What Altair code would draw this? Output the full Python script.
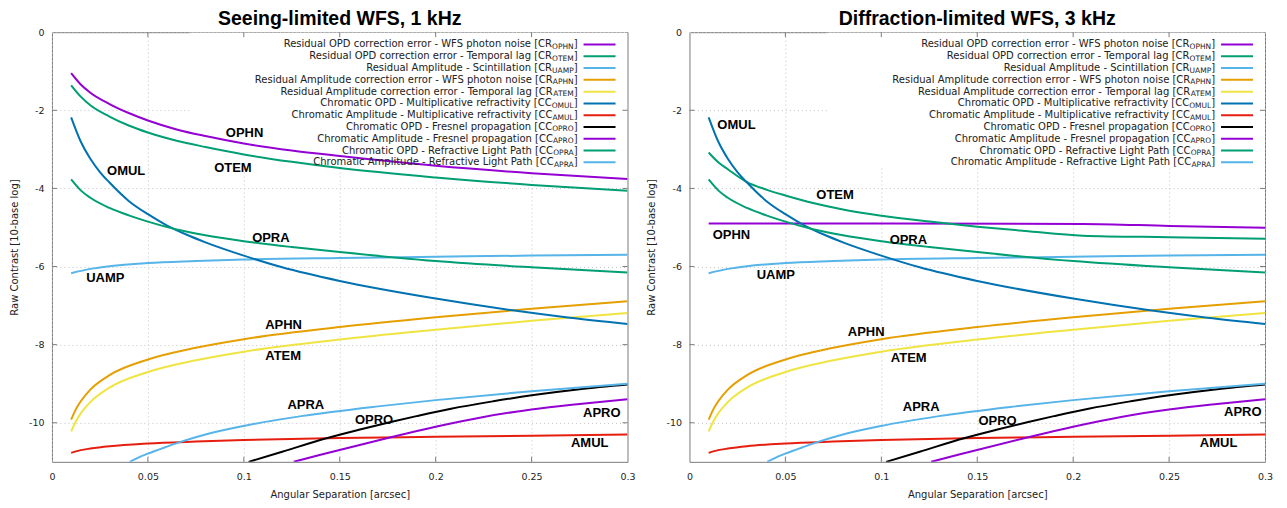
import altair as alt
import pandas as pd

# ---------------- data ----------------
SERIES = ["OPHN", "OTEM", "UAMP", "APHN", "ATEM", "OMUL", "AMUL", "OPRO", "APRO", "OPRA", "APRA"]
COLORS = ["#9400d3", "#009e73", "#56b4e9", "#e69f00", "#f0e442", "#0072b2",
          "#e51e10", "#000000", "#9400d3", "#009e73", "#56b4e9"]
PREFIX = ["CR", "CR", "CR", "CR", "CR", "CC", "CC", "CC", "CC", "CC", "CC"]
DESCRIPTIONS = [
    "Residual OPD correction error - WFS photon noise",
    "Residual OPD correction error - Temporal lag",
    "Residual Amplitude - Scintillation",
    "Residual Amplitude correction error - WFS photon noise",
    "Residual Amplitude correction error - Temporal lag",
    "Chromatic OPD - Multiplicative refractivity",
    "Chromatic Amplitude - Multiplicative refractivity",
    "Chromatic OPD - Fresnel propagation",
    "Chromatic Amplitude - Fresnel propagation",
    "Chromatic OPD - Refractive Light Path",
    "Chromatic Amplitude - Refractive Light Path",
]

TITLES = ["Seeing-limited WFS, 1 kHz", "Diffraction-limited WFS, 3 kHz"]
X_TICKS = [0, 0.05, 0.1, 0.15, 0.2, 0.25, 0.3]
Y_TICKS = [0, -2, -4, -6, -8, -10]

# panel-specific series
OPHN_SEEING_X = [0.01, 0.015, 0.02, 0.03, 0.04, 0.05, 0.065, 0.08, 0.1, 0.125, 0.15, 0.2, 0.25, 0.3]
OPHN_SEEING_Y = [-1.05, -1.34, -1.55, -1.84, -2.07, -2.26, -2.49, -2.66, -2.85, -3.03, -3.17, -3.42, -3.61, -3.76]
OTEM_SEEING_X = [0.01, 0.015, 0.02, 0.03, 0.04, 0.05, 0.065, 0.08, 0.1, 0.125, 0.15, 0.2, 0.25, 0.3]
OTEM_SEEING_Y = [-1.36, -1.65, -1.87, -2.16, -2.39, -2.57, -2.78, -2.94, -3.13, -3.32, -3.48, -3.72, -3.91, -4.06]

OPHN_DIFF_X = [0.01, 0.1, 0.205, 0.25, 0.3]
OPHN_DIFF_Y = [-4.90, -4.90, -4.91, -4.96, -5.01]
OTEM_DIFF_X = [0.01, 0.015, 0.02, 0.03, 0.04, 0.05, 0.065, 0.08, 0.1, 0.125, 0.15, 0.175, 0.205, 0.25, 0.3]
OTEM_DIFF_Y = [-3.08, -3.33, -3.51, -3.84, -4.03, -4.18, -4.38, -4.54, -4.70, -4.85, -4.98, -5.09, -5.21, -5.25, -5.29]

# series shared by both panels
UAMP_X = [0.01, 0.02, 0.03, 0.05, 0.075, 0.1, 0.15, 0.2, 0.25, 0.3]
UAMP_Y = [-6.17, -6.06, -5.99, -5.91, -5.86, -5.82, -5.78, -5.75, -5.72, -5.70]
APHN_X = [0.01, 0.0125, 0.015, 0.02, 0.03, 0.05, 0.075, 0.1, 0.15, 0.2, 0.25, 0.3]
APHN_Y = [-9.92, -9.65, -9.45, -9.15, -8.78, -8.38, -8.08, -7.86, -7.55, -7.30, -7.08, -6.89]
ATEM_X = [0.01, 0.0125, 0.015, 0.02, 0.03, 0.05, 0.075, 0.1, 0.15, 0.2, 0.25, 0.3]
ATEM_Y = [-10.22, -9.96, -9.76, -9.47, -9.10, -8.70, -8.40, -8.18, -7.87, -7.62, -7.39, -7.19]
OMUL_X = [0.01, 0.015, 0.02, 0.025, 0.03, 0.04, 0.05, 0.06, 0.07, 0.08, 0.1, 0.12, 0.15, 0.2, 0.24, 0.27, 0.3]
OMUL_Y = [-2.18, -2.80, -3.24, -3.58, -3.85, -4.32, -4.66, -4.95, -5.18, -5.38, -5.72, -6.02, -6.37, -6.82, -7.12, -7.31, -7.47]
AMUL_X = [0.01, 0.015, 0.02, 0.03, 0.05, 0.075, 0.1, 0.15, 0.2, 0.25, 0.3]
AMUL_Y = [-10.77, -10.70, -10.66, -10.60, -10.53, -10.48, -10.44, -10.39, -10.36, -10.33, -10.30]
OPRO_X = [0.1025, 0.12, 0.1436, 0.16, 0.1766, 0.19, 0.208, 0.23, 0.251, 0.275, 0.3]
OPRO_Y = [-11.0, -10.74, -10.39, -10.18, -9.98, -9.83, -9.64, -9.45, -9.29, -9.14, -9.02]
APRO_X = [0.126, 0.14, 0.1766, 0.2, 0.225, 0.25, 0.275, 0.3]
APRO_Y = [-11.0, -10.82, -10.37, -10.10, -9.85, -9.66, -9.52, -9.40]
OPRA_X = [0.01, 0.015, 0.02, 0.03, 0.04, 0.05, 0.065, 0.08, 0.1, 0.125, 0.15, 0.2, 0.25, 0.3]
OPRA_Y = [-3.77, -4.05, -4.24, -4.50, -4.69, -4.85, -5.05, -5.20, -5.35, -5.50, -5.63, -5.86, -6.02, -6.15]
APRA_X = [0.0405, 0.045, 0.05, 0.06, 0.067, 0.08, 0.1, 0.13, 0.17, 0.2, 0.25, 0.3]
APRA_Y = [-11.0, -10.89, -10.79, -10.61, -10.49, -10.30, -10.08, -9.83, -9.58, -9.42, -9.19, -9.0]

# curve annotations (label text, x, y) per panel
LABEL_NAMES = ["OPHN", "OTEM", "OMUL", "OPRA", "UAMP", "APHN", "ATEM", "APRA", "OPRO", "APRO", "AMUL"]
LABEL_SEEING_X = [0.1004, 0.0943, 0.0387, 0.1141, 0.0278, 0.1207, 0.1205, 0.1323, 0.1679, 0.2866, 0.2803]
LABEL_SEEING_Y = [-2.57, -3.48, -3.56, -5.27, -6.29, -7.49, -8.30, -9.54, -9.93, -9.74, -10.51]
LABEL_DIFF_X = [0.0219, 0.0759, 0.0245, 0.1141, 0.0450, 0.0921, 0.1143, 0.1208, 0.1606, 0.2884, 0.2758]
LABEL_DIFF_Y = [-5.18, -4.17, -2.37, -5.31, -6.21, -7.67, -8.34, -9.60, -9.96, -9.73, -10.53]

# ---------------- layout / style ----------------
W, H = 576, 430
BORDER = "#7a7a7a"
TEXT = "#222222"
FONT = "DejaVu Sans"
LEG_FS, SUB_FS = 10, 7.5
LEG_END = 526           # right edge of legend text (px inside plot)
LEG_TOP, LEG_STEP = 12.3, 11.8
# DejaVu Sans advance widths (units / 2048) for subscript layout
DJV = {"A": 1401, "E": 1294, "H": 1540, "L": 1141, "M": 1767, "N": 1532,
       "O": 1612, "P": 1235, "R": 1423, "T": 1251, "U": 1499, "]": 799}


def tw(s, size):
    return sum(DJV[c] for c in s) / 2048.0 * size


close_w = tw("]", LEG_FS)
legend_df = pd.DataFrame({
    "series": SERIES,
    "i": list(range(len(SERIES))),
    "main": [d + " [" + p for d, p in zip(DESCRIPTIONS, PREFIX)],
    "sub": SERIES,
    "xm": [LEG_END - close_w - tw(s, SUB_FS) for s in SERIES],
})

shared = {
    "UAMP": (UAMP_X, UAMP_Y), "APHN": (APHN_X, APHN_Y), "ATEM": (ATEM_X, ATEM_Y),
    "OMUL": (OMUL_X, OMUL_Y), "AMUL": (AMUL_X, AMUL_Y), "OPRO": (OPRO_X, OPRO_Y),
    "APRO": (APRO_X, APRO_Y), "OPRA": (OPRA_X, OPRA_Y), "APRA": (APRA_X, APRA_Y),
}

xscale = alt.Scale(domain=[0, 0.3], nice=False, zero=False)
yscale = alt.Scale(domain=[-11, 0], nice=False, zero=False)
color_scale = alt.Scale(domain=SERIES, range=COLORS)

xaxis = alt.Axis(values=X_TICKS, labelExpr="'' + datum.value", grid=True, gridColor="#c4c4c4",
                 gridDash=[1, 3], domain=False, ticks=False, labelFont=FONT, labelFontSize=9.5,
                 labelColor=TEXT, labelPadding=10, labelFlush=False, labelOverlap=False,
                 titleFont=FONT, titleFontSize=10, titleFontWeight="normal", titleColor=TEXT,
                 titlePadding=8)
yaxis = alt.Axis(values=Y_TICKS, labelExpr="'' + datum.value", grid=True, gridColor="#c4c4c4",
                 gridDash=[1, 3], domain=False, ticks=False, labelFont=FONT, labelFontSize=9.5,
                 labelColor=TEXT, labelPadding=8, labelOverlap=False,
                 titleFont=FONT, titleFontSize=10, titleFontWeight="normal", titleColor=TEXT,
                 titlePadding=9)

X_ENC = alt.X("x:Q", scale=xscale, axis=xaxis, title="Angular Separation [arcsec]")
Y_ENC = alt.Y("y:Q", scale=yscale, axis=yaxis, title="Raw Contrast [10-base log]")


def panel(title, ophn, otem, lab_x, lab_y):
    rows = []
    for s in SERIES:
        if s == "OPHN":
            xs, ys = ophn
        elif s == "OTEM":
            xs, ys = otem
        else:
            xs, ys = shared[s]
        rows += [{"series": s, "x": a, "y": b} for a, b in zip(xs, ys)]
    df = pd.DataFrame(rows)

    one = pd.DataFrame({"k": [0]})
    box = alt.Chart(one).mark_rect(fill="white").encode(
        x=alt.value(138), x2=alt.value(575.5), y=alt.value(0.5), y2=alt.value(136))

    lines = alt.Chart(df).mark_line(strokeWidth=2, clip=True, interpolate="monotone").encode(
        x=X_ENC, y=Y_ENC,
        color=alt.Color("series:N", scale=color_scale, legend=None),
        order=alt.Order("x:Q"),
    )

    xt = pd.DataFrame({"x": X_TICKS[1:-1]})
    yt = pd.DataFrame({"y": Y_TICKS[1:]})
    tick_b = alt.Chart(xt).mark_rule(color=BORDER).encode(x=X_ENC, y=alt.value(H), y2=alt.value(H - 5))
    tick_t = alt.Chart(xt).mark_rule(color=BORDER).encode(x=X_ENC, y=alt.value(0), y2=alt.value(5))
    tick_l = alt.Chart(yt).mark_rule(color=BORDER).encode(y=Y_ENC, x=alt.value(0), x2=alt.value(5))
    tick_r = alt.Chart(yt).mark_rule(color=BORDER).encode(y=Y_ENC, x=alt.value(W), x2=alt.value(W - 5))

    lab_df = pd.DataFrame({"name": LABEL_NAMES, "x": lab_x, "y": lab_y})
    labels = alt.Chart(lab_df).mark_text(font="Liberation Sans", fontSize=13, fontWeight="bold",
                                         color="black", align="center", baseline="middle").encode(
        x=X_ENC, y=Y_ENC, text="name:N")

    leg = alt.Chart(legend_df).transform_calculate(ypx=f"{LEG_TOP} + datum.i * {LEG_STEP}")
    ypx = alt.Y("ypx:Q", scale=None)
    leg_lines = leg.mark_rule(strokeWidth=2).encode(
        x=alt.value(532), x2=alt.value(564), y=ypx,
        color=alt.Color("series:N", scale=color_scale, legend=None))
    leg_main = leg.mark_text(align="right", baseline="middle", font=FONT, fontSize=LEG_FS,
                             color=TEXT).encode(x=alt.X("xm:Q", scale=None), y=ypx, text="main:N")
    leg_sub = leg.mark_text(align="right", baseline="middle", font=FONT, fontSize=SUB_FS, dy=2.5,
                            color=TEXT).encode(x=alt.value(LEG_END - close_w), y=ypx, text="sub:N")
    leg_close = leg.mark_text(align="right", baseline="middle", font=FONT, fontSize=LEG_FS,
                              color=TEXT).encode(x=alt.value(LEG_END), y=ypx, text=alt.value("]"))

    return alt.layer(box, lines, tick_b, tick_t, tick_l, tick_r, labels,
                     leg_lines, leg_main, leg_sub, leg_close).properties(
        width=W, height=H,
        title=alt.Title(title, font="Liberation Sans", fontSize=19.5, fontWeight="bold",
                        color="black", anchor="middle", offset=-2),
    )


left = panel(TITLES[0], (OPHN_SEEING_X, OPHN_SEEING_Y), (OTEM_SEEING_X, OTEM_SEEING_Y),
             LABEL_SEEING_X, LABEL_SEEING_Y)
right = panel(TITLES[1], (OPHN_DIFF_X, OPHN_DIFF_Y), (OTEM_DIFF_X, OTEM_DIFF_Y),
              LABEL_DIFF_X, LABEL_DIFF_Y)

chart = alt.hconcat(left, right, spacing=62, bounds="flush").properties(
    padding={"left": 0, "top": 0, "right": 5, "bottom": 0}
).configure_view(stroke=BORDER, strokeWidth=1)

chart.save("out.html", embed_options={"renderer": "svg", "actions": False})
